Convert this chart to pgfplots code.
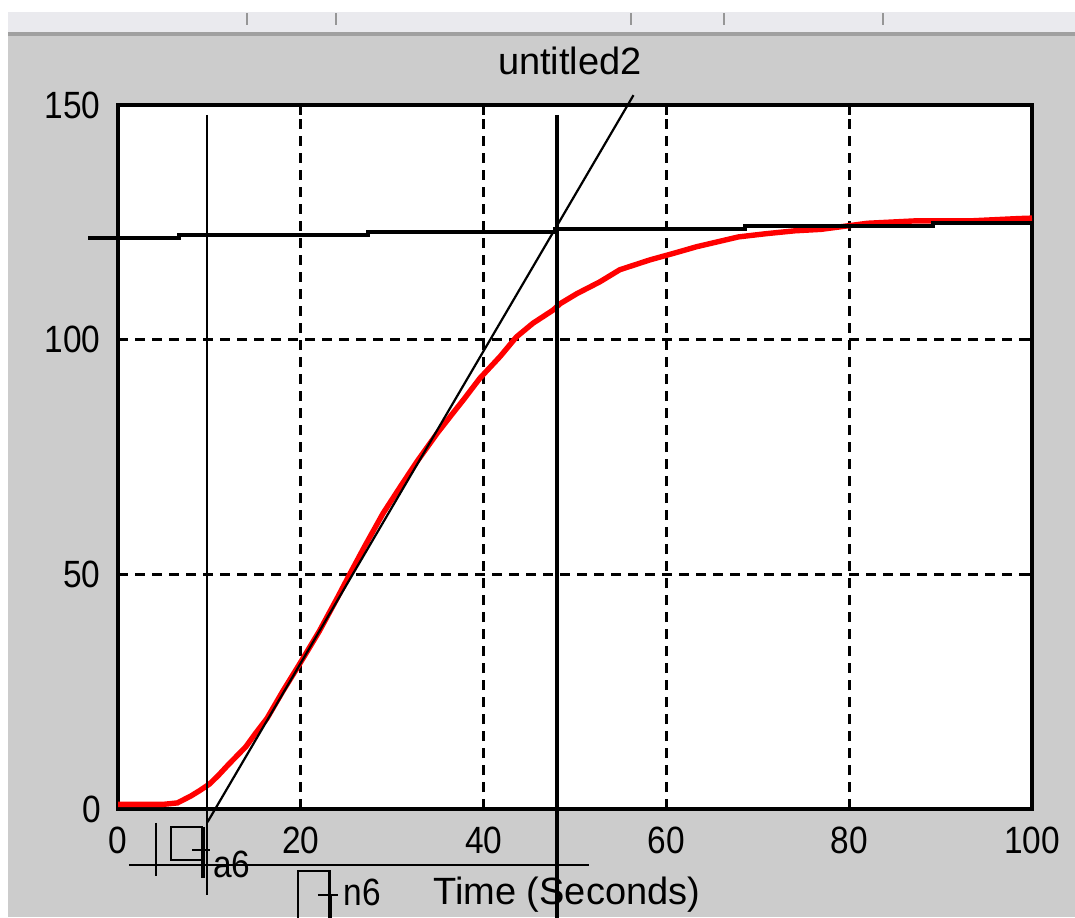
\documentclass[border=0pt]{standalone}
\usepackage{pgfplots}
\pgfplotsset{compat=1.18}
\usepackage{fontspec}
\setmainfont{Liberation Sans}
\newfontfamily\numfont{Liberation Sans}[FakeStretch=0.88]
\definecolor{bg}{RGB}{204,204,204}
\definecolor{barc}{RGB}{234,234,238}
\definecolor{linec}{RGB}{160,160,160}
\definecolor{sepc}{RGB}{150,150,150}
\newcommand\nf{\numfont\fontsize{19}{22}\selectfont}
\newcommand\tf{\fontsize{19}{22}\selectfont}
\begin{document}
\begin{tikzpicture}[x=0.5pt,y=0.5pt]
\useasboundingbox (0,0) rectangle (1075,917);
\fill[white] (0,0) rectangle (1075,917);
\fill[bg] (8,0) rectangle (1075,881);
\fill[linec] (8,881) rectangle (1075,885);
\fill[barc] (8,885) rectangle (1075,905);
\foreach \s in {247,336,631,724,883} \draw[sepc,line width=1pt] (\s,892) -- (\s,904);
\begin{axis}[
  at={(59pt,54pt)}, anchor=south west,
  scale only axis, width=457pt, height=352pt,
  xmin=0, xmax=100, ymin=0, ymax=150,
  clip=false,
  axis background/.style={fill=white},
  axis line style={line width=1.7pt, black},
  xtick={0,20,...,100}, ytick={0,50,100,150},
  major tick length=5pt,
  tick style={line width=1.5pt, black},
  tick align=inside,
  grid=major,
  major grid style={dash pattern=on 5pt off 3.5pt, line width=1.5pt, black},
  /pgf/number format/assume math mode=true,
  tick label style={font=\nf},
  xticklabel style={inner sep=0pt, anchor=north, yshift=-9pt},
  yticklabel style={inner sep=0pt, anchor=east, xshift=-8.5pt},
  xlabel={Time (Seconds)},
  xlabel style={font=\tf, inner sep=0pt, anchor=north, at={(axis description cs:0.491,0)}, yshift=-34pt},
  title={untitled2},
  title style={font=\tf, inner sep=0pt, anchor=south, at={(axis description cs:0.4945,1)}, yshift=9pt},
]
% red response
\addplot[red, line width=2.7pt] coordinates {
(0,1.0) (3,1.0) (5,1.0) (6.5,1.3) (8,2.8) (9,4.0) (10,5.3) (11,7.2) (12,9.3) (13,11.3)
(14,13.3) (15,16.0) (16.3,19.3) (18,25) (19.9,31.0) (22,37.8) (24,45.0) (25.4,50.2)
(27,56) (29,63) (31,69) (32.7,74.0) (34.9,80.0) (36.5,84) (37.8,87.2) (39.6,91.8)
(41.8,96.4) (43.6,100.6) (45.4,103.5) (47.6,106.3) (48.4,107.7) (50.2,109.8)
(52.7,112.3) (54.9,114.9) (58.2,117.0) (60.8,118.4) (63.3,119.8) (67.9,121.9)
(71,122.6) (74.1,123.2) (76.9,123.5) (82,124.8) (87.1,125.3) (93.1,125.3) (98.5,125.8) (100,125.9)};
% near-horizontal asymptote line
\addplot[black, line width=1.6pt, const plot] coordinates {
(-3.28,121.66) (6.67,122.30) (27.35,122.94) (47.81,123.58) (68.6,124.22) (89.17,124.86) (100,124.86)};
% tangent
\addplot[black, line width=1.1pt] coordinates {(9.79,-2.8) (56.4,152.1)};
% vertical lines
\addplot[black, line width=1.2pt] coordinates {(9.77,147.87) (9.77,-18.32)};
\addplot[black, line width=1.8pt] coordinates {(48.03,147.87) (48.03,-25)};
% long horizontal below axis
\addplot[black, line width=1.3pt] coordinates {(1.20,-11.93) (51.53,-11.93)};
% small marker pieces
\draw[black, line width=1.1pt] (4.16,-2.98) -- (4.16,-14.28);
\draw[black, line width=1.1pt] (9.26,-3.84) -- (5.77,-3.84) -- (5.77,-10.87) -- (9.26,-10.87);
\draw[black, line width=2pt] (9.26,-3.84) -- (9.26,-14.70);
\draw[black, line width=1.1pt] (8.10,-8.74) -- (10.07,-8.74);
\node[anchor=base west, inner sep=0pt, font=\nf] at (10.39,-14.70) {a6};
\draw[black, line width=1.1pt] (19.66,-30) -- (19.66,-13.21) -- (23.14,-13.21) -- (23.14,-30);
\draw[black, line width=2pt] (23.14,-18.32) -- (23.14,-30);
\draw[black, line width=1.1pt] (21.88,-18.32) -- (24.07,-18.32);
\node[anchor=base west, inner sep=0pt, font=\nf] at (24.62,-20.6) {n6};
\end{axis}
\end{tikzpicture}
\end{document}
